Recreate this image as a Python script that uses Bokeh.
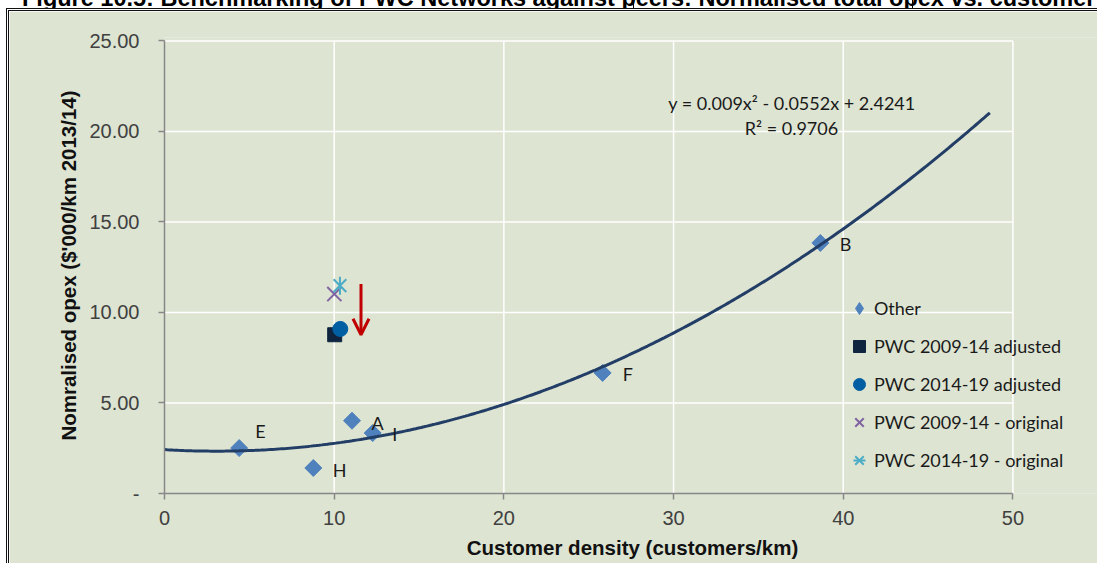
import numpy as np
from bokeh.plotting import figure
from bokeh.models import (Range1d, FixedTicker, Legend, LegendItem, Label,
                          Arrow, OpenHead, Div)
from bokeh.layouts import column
from bokeh.core.properties import value
from bokeh.embed import file_html
from bokeh.resources import INLINE

# ---------------- data ----------------
title_text = ("Figure 10.5: Benchmarking of PWC Networks against peers: "
              "Normalised total opex vs. customer density")

other_names = ["E", "H", "A", "I", "F", "B"]
other_x = [4.40, 8.77, 11.05, 12.27, 25.82, 38.65]
other_y = [2.51, 1.41, 4.02, 3.34, 6.66, 13.84]

pwc_adj_0914_x = [10.03]
pwc_adj_0914_y = [8.77]
pwc_adj_1419_x = [10.36]
pwc_adj_1419_y = [9.09]
pwc_orig_0914_x = [10.01]
pwc_orig_0914_y = [11.02]
pwc_orig_1419_x = [10.34]
pwc_orig_1419_y = [11.48]

trend_coeffs = [0.009, -0.0552, 2.4241]   # polynomial trendline shown on the chart
trend_x_range = [0.0, 48.64]
r_squared = 0.9706

arrow_x = 11.58
arrow_y_from = 11.57
arrow_y_to = 8.77

x_ticks = [0, 10, 20, 30, 40, 50]
x_tick_labels = ["0", "10", "20", "30", "40", "50"]
y_ticks = [0, 5, 10, 15, 20, 25]
y_tick_labels = ["-", "5.00", "10.00", "15.00", "20.00", "25.00"]

series_names = ["Other", "PWC 2009-14 adjusted", "PWC 2014-19 adjusted",
                "PWC 2009-14 - original", "PWC 2014-19 - original"]
x_title = "Customer density (customers/km)"
y_title = "Nomralised opex ($'000/km 2013/14)"

# ---------------- styles ----------------
BG = "#dde4d2"
AXIS_GREY = "#878787"
TXT = "#1a1a1a"
FONT = "Lato"
label_dx = [16, 19.5, 19.5, 19.5, 20, 19.5]
label_dy = [-17, 2, 2.5, 1, 1, 1.5]

W, H = 1091, 555
p = figure(width=W, height=H,
           x_range=Range1d(0, 55.16), y_range=Range1d(0, 25.19),
           output_backend="svg", toolbar_location=None,
           min_border_left=155, min_border_right=0,
           min_border_top=26, min_border_bottom=73,
           background_fill_color=BG, border_fill_color=BG,
           outline_line_color=None)
p.styles = {"margin-left": "6px",
            "border-left": "3px double #111", "border-top": "3px double #111"}

# axes
p.xaxis.ticker = FixedTicker(ticks=x_ticks)
p.xaxis.major_label_overrides = dict(zip(x_ticks, x_tick_labels))
p.yaxis.ticker = FixedTicker(ticks=y_ticks)
p.yaxis.major_label_overrides = dict(zip(y_ticks, y_tick_labels))
p.xaxis.bounds = (x_ticks[0], x_ticks[-1])
p.yaxis.bounds = (y_ticks[0], y_ticks[-1])
p.xaxis.axis_label = x_title
p.yaxis.axis_label = y_title
for ax in (p.xaxis[0], p.yaxis[0]):
    ax.axis_line_color = AXIS_GREY
    ax.axis_line_width = 1.5
    ax.major_tick_line_color = AXIS_GREY
    ax.major_tick_line_width = 1.5
    ax.major_tick_in = 0
    ax.major_tick_out = 6
    ax.minor_tick_line_color = None
    ax.major_label_text_font = "Liberation Sans"
    ax.major_label_text_font_size = "20px"
    ax.major_label_text_color = "#404040"
    ax.axis_label_text_font = "Liberation Sans"
    ax.axis_label_text_font_style = "bold"
    ax.axis_label_text_font_size = "20.5px"
    ax.axis_label_text_color = "#111111"
p.xaxis.major_label_standoff = 11
p.xaxis.axis_label_standoff = 8
p.yaxis.major_label_standoff = 19
p.yaxis.axis_label_standoff = 6

# grid lines (stop at the last tick, as in the reference)
p.grid.visible = False
gx = x_ticks[1:]
gy = y_ticks[1:]
p.segment(x0=gx, x1=gx, y0=[y_ticks[0]] * len(gx), y1=[y_ticks[-1]] * len(gx),
          line_color="white", line_width=1.5)
p.segment(x0=[x_ticks[0]] * len(gy), x1=[x_ticks[-1]] * len(gy), y0=gy, y1=gy,
          line_color="white", line_width=1.5)

# series
r_other = p.scatter(other_x, other_y, marker="square", angle=np.pi / 4, size=12,
                    fill_color="#4f81bd", line_color="#4f81bd")
# same data with the diamond marker, hidden in the plot, used only for the legend key
r_other_leg = p.scatter(other_x, other_y, marker="diamond", size=12,
                        fill_color="#4f81bd", line_color="#4f81bd", visible=False)
r_adj0914 = p.scatter(pwc_adj_0914_x, pwc_adj_0914_y, marker="square", size=14,
                      fill_color="#0f243e", line_color="#0f243e")
r_adj1419 = p.scatter(pwc_adj_1419_x, pwc_adj_1419_y, marker="circle", size=15,
                      fill_color="#005fa3", line_color="#005fa3")
r_orig0914 = p.scatter(pwc_orig_0914_x, pwc_orig_0914_y, marker="x", size=20,
                       line_color="#8064a2", line_width=2)
r_orig1419a = p.scatter(pwc_orig_1419_x, pwc_orig_1419_y, marker="x", size=18,
                        line_color="#4bacc6", line_width=2)
r_orig1419b = p.scatter(pwc_orig_1419_x, pwc_orig_1419_y, marker="dash", size=18,
                        angle=np.pi / 2, line_color="#4bacc6", line_width=2)

# trendline (polynomial shown on chart)
a, b, c = trend_coeffs
tx = np.linspace(trend_x_range[0], trend_x_range[1], 300)
ty = a * tx ** 2 + b * tx + c
p.line(tx, ty, line_color="#233e66", line_width=3)

# point labels
p.text(x=other_x, y=other_y, text=other_names, x_offset=label_dx, y_offset=label_dy,
       text_font=value(FONT), text_font_size="18px", text_color=TXT,
       text_align="left", text_baseline="middle")

# equation
eq_text = f"y = {a:g}x\u00b2 - {abs(b):g}x + {c:g}"
r2_text = f"R\u00b2 = {r_squared:g}"
p.add_layout(Label(x=36.98, y=21.59, text=eq_text, text_font=FONT,
                   text_font_size="18px", text_color=TXT,
                   text_align="center", text_baseline="middle"))
p.add_layout(Label(x=36.95, y=20.21, text=r2_text, text_font=FONT,
                   text_font_size="18px", text_color=TXT,
                   text_align="center", text_baseline="middle"))

# red arrow
p.add_layout(Arrow(end=OpenHead(size=16, line_color="#c00000", line_width=3),
                   x_start=arrow_x, y_start=arrow_y_from,
                   x_end=arrow_x, y_end=arrow_y_to,
                   line_color="#c00000", line_width=3))

legend = Legend(items=[
    LegendItem(label=series_names[0], renderers=[r_other_leg]),
    LegendItem(label=series_names[1], renderers=[r_adj0914]),
    LegendItem(label=series_names[2], renderers=[r_adj1419]),
    LegendItem(label=series_names[3], renderers=[r_orig0914]),
    LegendItem(label=series_names[4], renderers=[r_orig1419a, r_orig1419b]),
], location=(680, 16), background_fill_alpha=0, border_line_color=None,
    padding=0, margin=0, spacing=4, glyph_width=30, glyph_height=34,
    label_height=30, label_standoff=0, label_text_font=FONT,
    label_text_font_size="18px", label_text_color=TXT, click_policy="none")
p.add_layout(legend)

title_html = (
    '<div style="position:relative;width:1097px;height:8px;overflow:hidden;">'
    '<div style="position:absolute;left:22px;top:-13px;white-space:nowrap;'
    'font-family:\'Liberation Sans\';font-weight:bold;font-size:23.5px;'
    f'line-height:23.5px;color:#000;">{title_text}</div>'
    '<div style="position:absolute;left:633px;top:0;width:1px;height:8px;background:#000;"></div>'
    '<div style="position:absolute;left:912px;top:0;width:1px;height:8px;background:#000;"></div>'
    '</div>'
)
title_div = Div(text=title_html, width=1097, height=8,
                styles={"overflow": "hidden", "height": "8px", "max-height": "8px",
                        "min-height": "0px", "padding": "0px", "margin": "0px",
                        "line-height": "0px", "font-size": "0px"})

layout = column(title_div, p, spacing=0)
open("out.html", "w").write(file_html(layout, INLINE))
